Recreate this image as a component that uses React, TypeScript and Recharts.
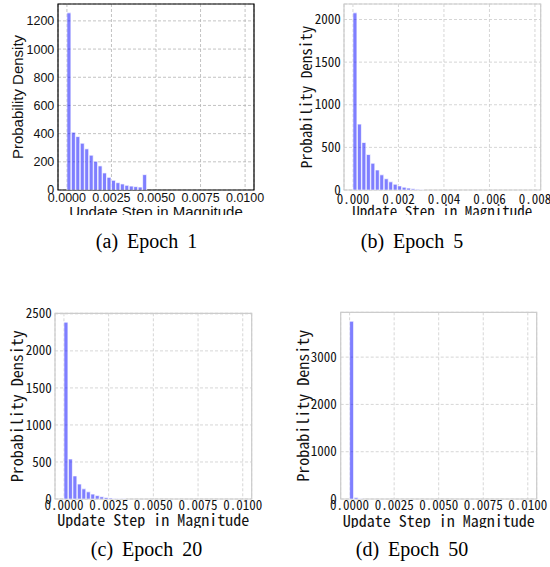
import React from "react";
import { BarChart, Bar, XAxis, YAxis, CartesianGrid, ReferenceArea, Label } from "recharts";

// histogram heights, one value per bin starting at 0 (empty tail bins left out)
const epoch1Density = [1257, 410, 379, 332, 292, 247, 204, 171, 121, 90, 69, 52, 43, 33, 28, 24, 21, 109];
const epoch5Density = [2078, 773, 557, 416, 314, 235, 178, 132, 96, 68, 48, 33, 22, 14, 8, 4];
const epoch20Density = [2388, 540, 312, 202, 137, 97, 66, 46, 30, 20, 13, 8, 5, 3];
const epoch50Density = [3760, 30, 6];

// upper end of the histogram range (40 bins each)
const epoch1Range = 0.01;
const epoch5Range = 0.00786;
const epoch20Range = 0.01;
const epoch50Range = 0.01;

const xTicksWide = [0, 0.0025, 0.005, 0.0075, 0.01];
const xTicksEpoch5 = [0, 0.002, 0.004, 0.006, 0.008];
const yTicksEpoch1 = [0, 200, 400, 600, 800, 1000, 1200];
const yTicksEpoch5 = [0, 500, 1000, 1500, 2000];
const yTicksEpoch20 = [0, 500, 1000, 1500, 2000, 2500];
const yTicksEpoch50 = [0, 1000, 2000, 3000];

const captions = ["(a) Epoch 1", "(b) Epoch 5", "(c) Epoch 20", "(d) Epoch 50"];

const BINS = 40;
const SANS = "'Liberation Sans', Arial, sans-serif";
const MONO = "'Noto Sans Mono CJK SC', 'DejaVu Sans Mono', monospace";

const toRows = (density: number[], range: number) =>
  density.map((d, i) => ({ x: ((i + 0.5) * range) / BINS, density: d }));

interface PanelProps {
  left: number;
  top: number;
  clipHeight: number;
  density: number[];
  range: number;
  xTicks: number[];
  yTicks: number[];
  digits: number;
  plot: { left: number; right: number; top: number; bottom: number };
  font: string;
  tickSize: number;
  labelSize: number;
  yLabelX: number;
  yTickGap: number;
  xTickGap: number;
  xLabelGap: number;
  frame: string;
  grid: string;
}

const Panel: React.FC<PanelProps> = (p) => {
  const W = 275;
  const H = 260;
  const data = toRows(p.density, p.range);
  const yMax = Math.max(...p.density) * 1.05;
  const xDomain = [-0.05 * p.range, 1.05 * p.range];
  const xAxisH = 40;
  const textStyle = { fontFamily: p.font, fill: "#111" };
  return (
    <div style={{ position: "absolute", left: p.left, top: p.top, width: W, height: p.clipHeight, overflow: "hidden" }}>
      <BarChart
        width={W}
        height={H}
        data={data}
        barCategoryGap={0}
        barGap={0}
        margin={{ top: p.plot.top, left: 0, right: W - p.plot.right, bottom: H - p.plot.bottom - xAxisH }}
      >
        <CartesianGrid stroke={p.grid} strokeDasharray="3 2" strokeWidth={0.8} />
        <XAxis
          dataKey="x"
          type="number"
          domain={xDomain}
          allowDataOverflow
          ticks={p.xTicks}
          tickFormatter={(v: number) => v.toFixed(p.digits)}
          tickLine={false}
          axisLine={false}
          tickSize={0}
          tickMargin={p.xTickGap}
          interval={0}
          height={xAxisH}
          tick={{ ...textStyle, fontSize: p.tickSize }}
        >
          <Label
            value="Update Step in Magnitude"
            position="insideTop"
            offset={p.xLabelGap}
            style={{ ...textStyle, fontSize: p.labelSize }}
          />
        </XAxis>
        <YAxis
          type="number"
          domain={[0, yMax]}
          allowDataOverflow
          ticks={p.yTicks}
          tickLine={false}
          axisLine={false}
          tickSize={0}
          tickMargin={p.yTickGap}
          interval={0}
          width={p.plot.left}
          tick={{ ...textStyle, fontSize: p.tickSize }}
        >
          <Label
            value="Probability Density"
            angle={-90}
            position="insideLeft"
            offset={p.yLabelX}
            style={{ ...textStyle, fontSize: p.labelSize, textAnchor: "middle" }}
          />
        </YAxis>
        <Bar
          dataKey="density"
          fill="#0000ff"
          fillOpacity={0.5}
          stroke="#ffffff"
          strokeWidth={0.7}
          isAnimationActive={false}
        />
        <ReferenceArea
          x1={xDomain[0]}
          x2={xDomain[1]}
          y1={0}
          y2={yMax}
          fill="none"
          stroke={p.frame}
          strokeWidth={1.2}
          ifOverflow="visible"
        />
      </BarChart>
    </div>
  );
};

export default function App() {
  return (
    <div style={{ position: "absolute", left: 0, top: 0, width: 550, height: 567, background: "#fff", overflow: "hidden" }}>
      <Panel
        left={0}
        top={0}
        clipHeight={215}
        density={epoch1Density}
        range={epoch1Range}
        xTicks={xTicksWide}
        yTicks={yTicksEpoch1}
        digits={4}
        plot={{ left: 58, right: 254, top: 4, bottom: 190 }}
        font={SANS}
        tickSize={12.5}
        labelSize={15}
        yLabelX={18}
        yTickGap={3.7}
        xTickGap={3.3}
        xLabelGap={16.7}
        frame="#000000"
        grid="#b4b4b4"
      />
      <Panel
        left={275}
        top={0}
        clipHeight={215}
        density={epoch5Density}
        range={epoch5Range}
        xTicks={xTicksEpoch5}
        yTicks={yTicksEpoch5}
        digits={3}
        plot={{ left: 69, right: 265.7, top: 4, bottom: 190 }}
        font={MONO}
        tickSize={13}
        labelSize={15}
        yLabelX={31.5}
        yTickGap={3.3}
        xTickGap={4.3}
        xLabelGap={16.7}
        frame="#cccccc"
        grid="#cccccc"
      />
      <Panel
        left={0}
        top={300}
        clipHeight={228}
        density={epoch20Density}
        range={epoch20Range}
        xTicks={xTicksWide}
        yTicks={yTicksEpoch20}
        digits={4}
        plot={{ left: 55, right: 251.7, top: 13.3, bottom: 199 }}
        font={MONO}
        tickSize={13}
        labelSize={16}
        yLabelX={17.5}
        yTickGap={3.3}
        xTickGap={1.5}
        xLabelGap={16}
        frame="#cccccc"
        grid="#cccccc"
      />
      <Panel
        left={275}
        top={300}
        clipHeight={228}
        density={epoch50Density}
        range={epoch50Range}
        xTicks={xTicksWide}
        yTicks={yTicksEpoch50}
        digits={4}
        plot={{ left: 65.7, right: 261.7, top: 12.3, bottom: 199 }}
        font={MONO}
        tickSize={13}
        labelSize={16}
        yLabelX={28}
        yTickGap={4}
        xTickGap={1.5}
        xLabelGap={17}
        frame="#cccccc"
        grid="#cccccc"
      />
      <svg width={550} height={567} style={{ position: "absolute", left: 0, top: 0, pointerEvents: "none" }}>
        {captions.map((c, i) => (
          <text
            key={c}
            x={i % 2 === 0 ? 146.5 : 412}
            y={i < 2 ? 248 : 556}
            textAnchor="middle"
            fontFamily="'Liberation Serif', 'Times New Roman', serif"
            fontSize={20}
            wordSpacing={4}
            fill="#000"
          >
            {c}
          </text>
        ))}
      </svg>
    </div>
  );
}
